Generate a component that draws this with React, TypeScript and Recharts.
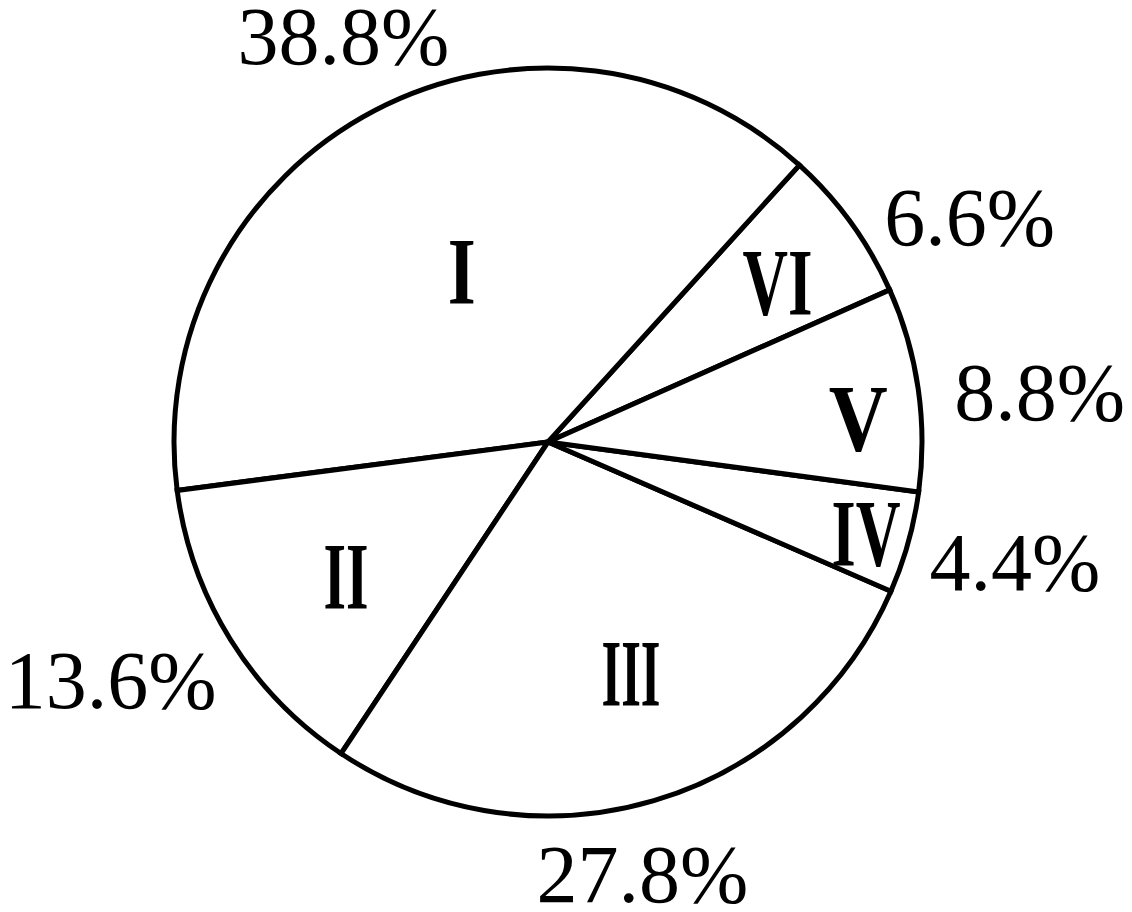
import { PieChart, Pie, Cell } from "recharts";

// slices in drawing order (counter-clockwise from the start angle)
const numerals = ["VI", "I", "II", "III", "IV", "V"];
const shares = [6.6, 38.8, 13.6, 27.8, 4.4, 8.8];
const shareLabels = ["6.6%", "38.8%", "13.6%", "27.8%", "4.4%", "8.8%"];

const data = numerals.map((n, i) => ({ name: n, value: shares[i], label: shareLabels[i] }));

const RADIAN = Math.PI / 180;
const FONT = '"Liberation Serif", "Times New Roman", serif';

// label layout: [radius factor, angle nudge in degrees]
const numeralPos: [number, number][] = [
  [0.746, -1.2],
  [0.508, -0.6],
  [0.65, 1.9],
  [0.66, 3.2],
  [0.885, -0.5],
  [0.832, -4.0],
];
const numeralWidth = [70, 28, 45, 59, 69, 59];
const pctPos: [number, number][] = [
  [1.278, -7.8],
  [1.214, -0.8],
  [1.332, -3.3],
  [1.182, -4.1],
  [1.289, 1.2],
  [1.321, -2.4],
];

const NUM_SIZE = 96;
const PCT_SIZE = 82;

function renderLabel(props: any) {
  const { cx, cy, midAngle, outerRadius, index } = props;
  const [nf, na] = numeralPos[index];
  const [pf, pa] = pctPos[index];
  const a1 = (midAngle + na) * RADIAN;
  const a2 = (midAngle + pa) * RADIAN;
  const nx = cx + outerRadius * nf * Math.cos(a1);
  const ny = cy - outerRadius * nf * Math.sin(a1);
  const px = cx + outerRadius * pf * Math.cos(a2);
  const py = cy - outerRadius * pf * Math.sin(a2);
  return (
    <g key={`lbl-${index}`}>
      <text
        x={nx}
        y={ny + NUM_SIZE * 0.331}
        textAnchor="middle"
        fontFamily={FONT}
        fontSize={NUM_SIZE}
        fontWeight="bold"
        fill="#000"
        textLength={numeralWidth[index]}
        lengthAdjust="spacingAndGlyphs"
      >
        {numerals[index]}
      </text>
      <text
        x={px}
        y={py + PCT_SIZE * 0.338}
        textAnchor="middle"
        fontFamily={FONT}
        fontSize={PCT_SIZE}
        fill="#000"
      >
        {shareLabels[index]}
      </text>
    </g>
  );
}

export default function App() {
  return (
    <div style={{ position: "absolute", left: 0, top: 0, width: 1132, height: 912, background: "#fff" }}>
      <PieChart width={1132} height={912} margin={{ top: 0, right: 0, bottom: 0, left: 0 }}>
        <Pie
          data={data}
          dataKey="value"
          cx={548}
          cy={442}
          innerRadius={0}
          outerRadius={374}
          startAngle={24}
          endAngle={384}
          paddingAngle={0}
          stroke="#000"
          strokeWidth={5}
          label={renderLabel}
          labelLine={false}
          isAnimationActive={false}
        >
          {data.map((d, i) => (
            <Cell key={`c-${i}`} fill="#fff" stroke="#000" strokeWidth={5} />
          ))}
        </Pie>
      </PieChart>
    </div>
  );
}
